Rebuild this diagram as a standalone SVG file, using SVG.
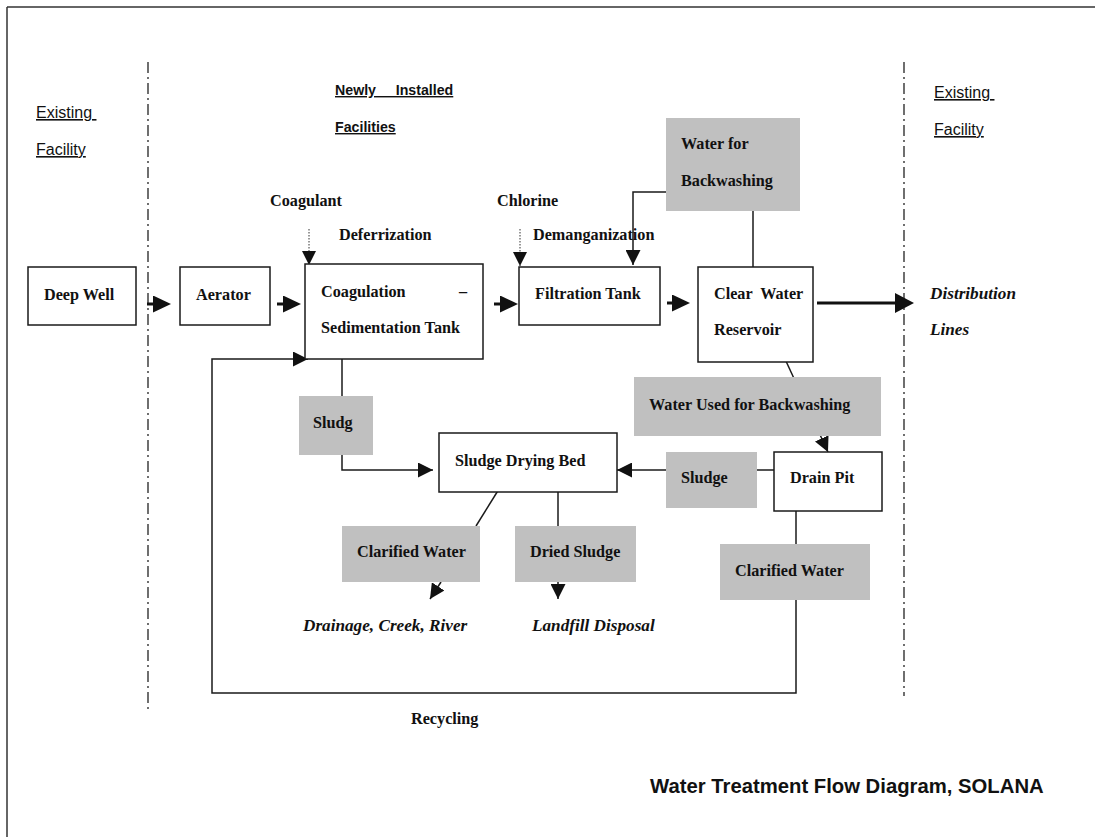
<svg xmlns="http://www.w3.org/2000/svg" width="1095" height="837" viewBox="0 0 1095 837">
<style>
.bx{fill:#fff;stroke:#1a1a1a;stroke-width:1.5}
.gb{fill:#c0c0c0;stroke:none}
.ln{fill:none;stroke:#1a1a1a;stroke-width:1.5}
.tk{fill:none;stroke:#111;stroke-width:3}
.dt{fill:none;stroke:#333;stroke-width:1;stroke-dasharray:1.5 1.5}
.dd{fill:none;stroke:#222;stroke-width:1.3;stroke-dasharray:11 4 2 4}
.s{font-family:"Liberation Serif","Times New Roman",serif;font-weight:bold;font-size:16.2px;fill:#111}
.si{font-family:"Liberation Serif","Times New Roman",serif;font-weight:bold;font-style:italic;font-size:17.2px;fill:#111}
.a{font-family:"Liberation Sans",Arial,sans-serif;font-size:16px;fill:#111;text-decoration:underline}
.ab{font-family:"Liberation Sans",Arial,sans-serif;font-weight:bold;font-size:14.2px;fill:#111;text-decoration:underline}
.t{font-family:"Liberation Sans",Arial,sans-serif;font-weight:bold;font-size:20.3px;fill:#111}
</style>
<defs>
<marker id="big" markerUnits="userSpaceOnUse" markerWidth="18" markerHeight="17" refX="2" refY="8.5" orient="auto"><path d="M0,0 L18,8.5 L0,17 z" fill="#111"/></marker>
<marker id="med" markerUnits="userSpaceOnUse" markerWidth="15" markerHeight="15" refX="15" refY="7.5" orient="auto"><path d="M0,0 L15,7.5 L0,15 z" fill="#111"/></marker>
<marker id="sm" markerUnits="userSpaceOnUse" markerWidth="14" markerHeight="14" refX="14" refY="7" orient="auto"><path d="M0,0 L14,7 L0,14 z" fill="#111"/></marker>
<marker id="dist" markerUnits="userSpaceOnUse" markerWidth="19" markerHeight="20" refX="5" refY="10" orient="auto"><path d="M0,0 L19,10 L0,20 z" fill="#111"/></marker>
</defs>
<g id="frame">
<line x1="7" y1="7" x2="1095" y2="7" stroke="#333" stroke-width="1.5"/>
<line x1="7" y1="7" x2="7" y2="837" stroke="#333" stroke-width="1.5"/>
<line class="dd" x1="148" y1="62" x2="148" y2="713"/>
<line class="dd" x1="904" y1="62" x2="904" y2="696"/>
</g>
<g id="connectors">
<line class="tk" x1="147" y1="304" x2="155" y2="304" marker-end="url(#big)"/>
<line class="tk" x1="277" y1="304" x2="285" y2="304" marker-end="url(#big)"/>
<line class="tk" x1="494" y1="304" x2="502" y2="304" marker-end="url(#big)"/>
<line class="tk" x1="667" y1="303" x2="674" y2="303" marker-end="url(#big)"/>
<line class="tk" x1="817" y1="303" x2="900" y2="303" stroke-width="3.5" marker-end="url(#dist)"/>
<polyline class="ln" points="666,192 633,192 633,265" marker-end="url(#med)"/>
<line class="ln" x1="753" y1="211" x2="753" y2="267"/>
<line class="dt" x1="309" y1="229" x2="309" y2="265" marker-end="url(#sm)"/>
<line class="dt" x1="520" y1="229" x2="520" y2="266" marker-end="url(#sm)"/>
<polyline class="ln" points="796,600 796,693 212,693 212,359 308,359" marker-end="url(#med)"/>
<line class="ln" x1="342" y1="359" x2="342" y2="396"/>
<polyline class="ln" points="342,455 342,470 433,470" marker-end="url(#med)"/>
<line class="ln" x1="774" y1="470" x2="757" y2="470"/>
<line class="ln" x1="666" y1="470" x2="617" y2="470" marker-end="url(#med)"/>
<line class="ln" x1="499" y1="489" x2="476" y2="526"/>
<line class="ln" x1="441" y1="582" x2="430" y2="599" marker-end="url(#med)"/>
<line class="ln" x1="558" y1="489" x2="558" y2="526"/>
<line class="ln" x1="558" y1="582" x2="558" y2="599" marker-end="url(#med)"/>
<line class="ln" x1="785" y1="359" x2="828" y2="452" marker-end="url(#med)"/>
<line class="ln" x1="796" y1="508" x2="796" y2="544"/>
</g>
<g id="deep-well"><rect class="bx" x="28" y="267" width="108" height="58"/><text class="s" x="44" y="300">Deep Well</text></g>
<g id="aerator"><rect class="bx" x="180" y="267" width="90" height="58"/><text class="s" x="196" y="300">Aerator</text></g>
<g id="coagulation"><rect class="bx" x="305" y="264" width="178" height="95"/><text class="s" x="321" y="297">Coagulation</text><text class="s" x="459" y="297">–</text><text class="s" x="321" y="333">Sedimentation Tank</text></g>
<g id="filtration"><rect class="bx" x="519" y="267" width="141" height="58"/><text class="s" x="535" y="299">Filtration Tank</text></g>
<g id="clear-water"><rect class="bx" x="698" y="267" width="115" height="95"/><text class="s" x="714" y="299" xml:space="preserve">Clear  Water</text><text class="s" x="714" y="335">Reservoir</text></g>
<g id="water-for-backwashing"><rect class="gb" x="666" y="118" width="134" height="93"/><text class="s" x="681" y="149">Water for</text><text class="s" x="681" y="186">Backwashing</text></g>
<g id="water-used"><rect class="gb" x="634" y="377" width="247" height="59"/><text class="s" x="649" y="410">Water Used for Backwashing</text></g>
<g id="sludg"><rect class="gb" x="299" y="396" width="74" height="59"/><text class="s" x="313" y="428">Sludg</text></g>
<g id="sludge-drying-bed"><rect class="bx" x="439" y="433" width="178" height="59"/><text class="s" x="455" y="466">Sludge Drying Bed</text></g>
<g id="sludge"><rect class="gb" x="666" y="452" width="91" height="56"/><text class="s" x="681" y="483">Sludge</text></g>
<g id="drain-pit"><rect class="bx" x="774" y="452" width="108" height="59"/><text class="s" x="790" y="483">Drain Pit</text></g>
<g id="clarified-water-1"><rect class="gb" x="342" y="526" width="138" height="56"/><text class="s" x="357" y="557">Clarified Water</text></g>
<g id="dried-sludge"><rect class="gb" x="515" y="526" width="121" height="56"/><text class="s" x="530" y="557">Dried Sludge</text></g>
<g id="clarified-water-2"><rect class="gb" x="720" y="544" width="150" height="56"/><text class="s" x="735" y="576">Clarified Water</text></g>
<g id="labels">
<text class="a" x="36" y="118" xml:space="preserve">Existing </text>
<text class="a" x="36" y="155">Facility</text>
<text class="a" x="934" y="98" xml:space="preserve">Existing </text>
<text class="a" x="934" y="135">Facility</text>
<text class="ab" x="335" y="95" xml:space="preserve">Newly     Installed</text>
<text class="ab" x="335" y="132">Facilities</text>
<text class="s" x="270" y="206">Coagulant</text>
<text class="s" x="339" y="240">Deferrization</text>
<text class="s" x="497" y="206">Chlorine</text>
<text class="s" x="533" y="240">Demanganization</text>
<text class="si" x="930" y="299">Distribution</text>
<text class="si" x="930" y="335">Lines</text>
<text class="si" x="303" y="631">Drainage, Creek, River</text>
<text class="si" x="532" y="631">Landfill Disposal</text>
<text class="s" x="411" y="724">Recycling</text>
<text class="t" x="650" y="793">Water Treatment Flow Diagram, SOLANA</text>
</g>
</svg>
